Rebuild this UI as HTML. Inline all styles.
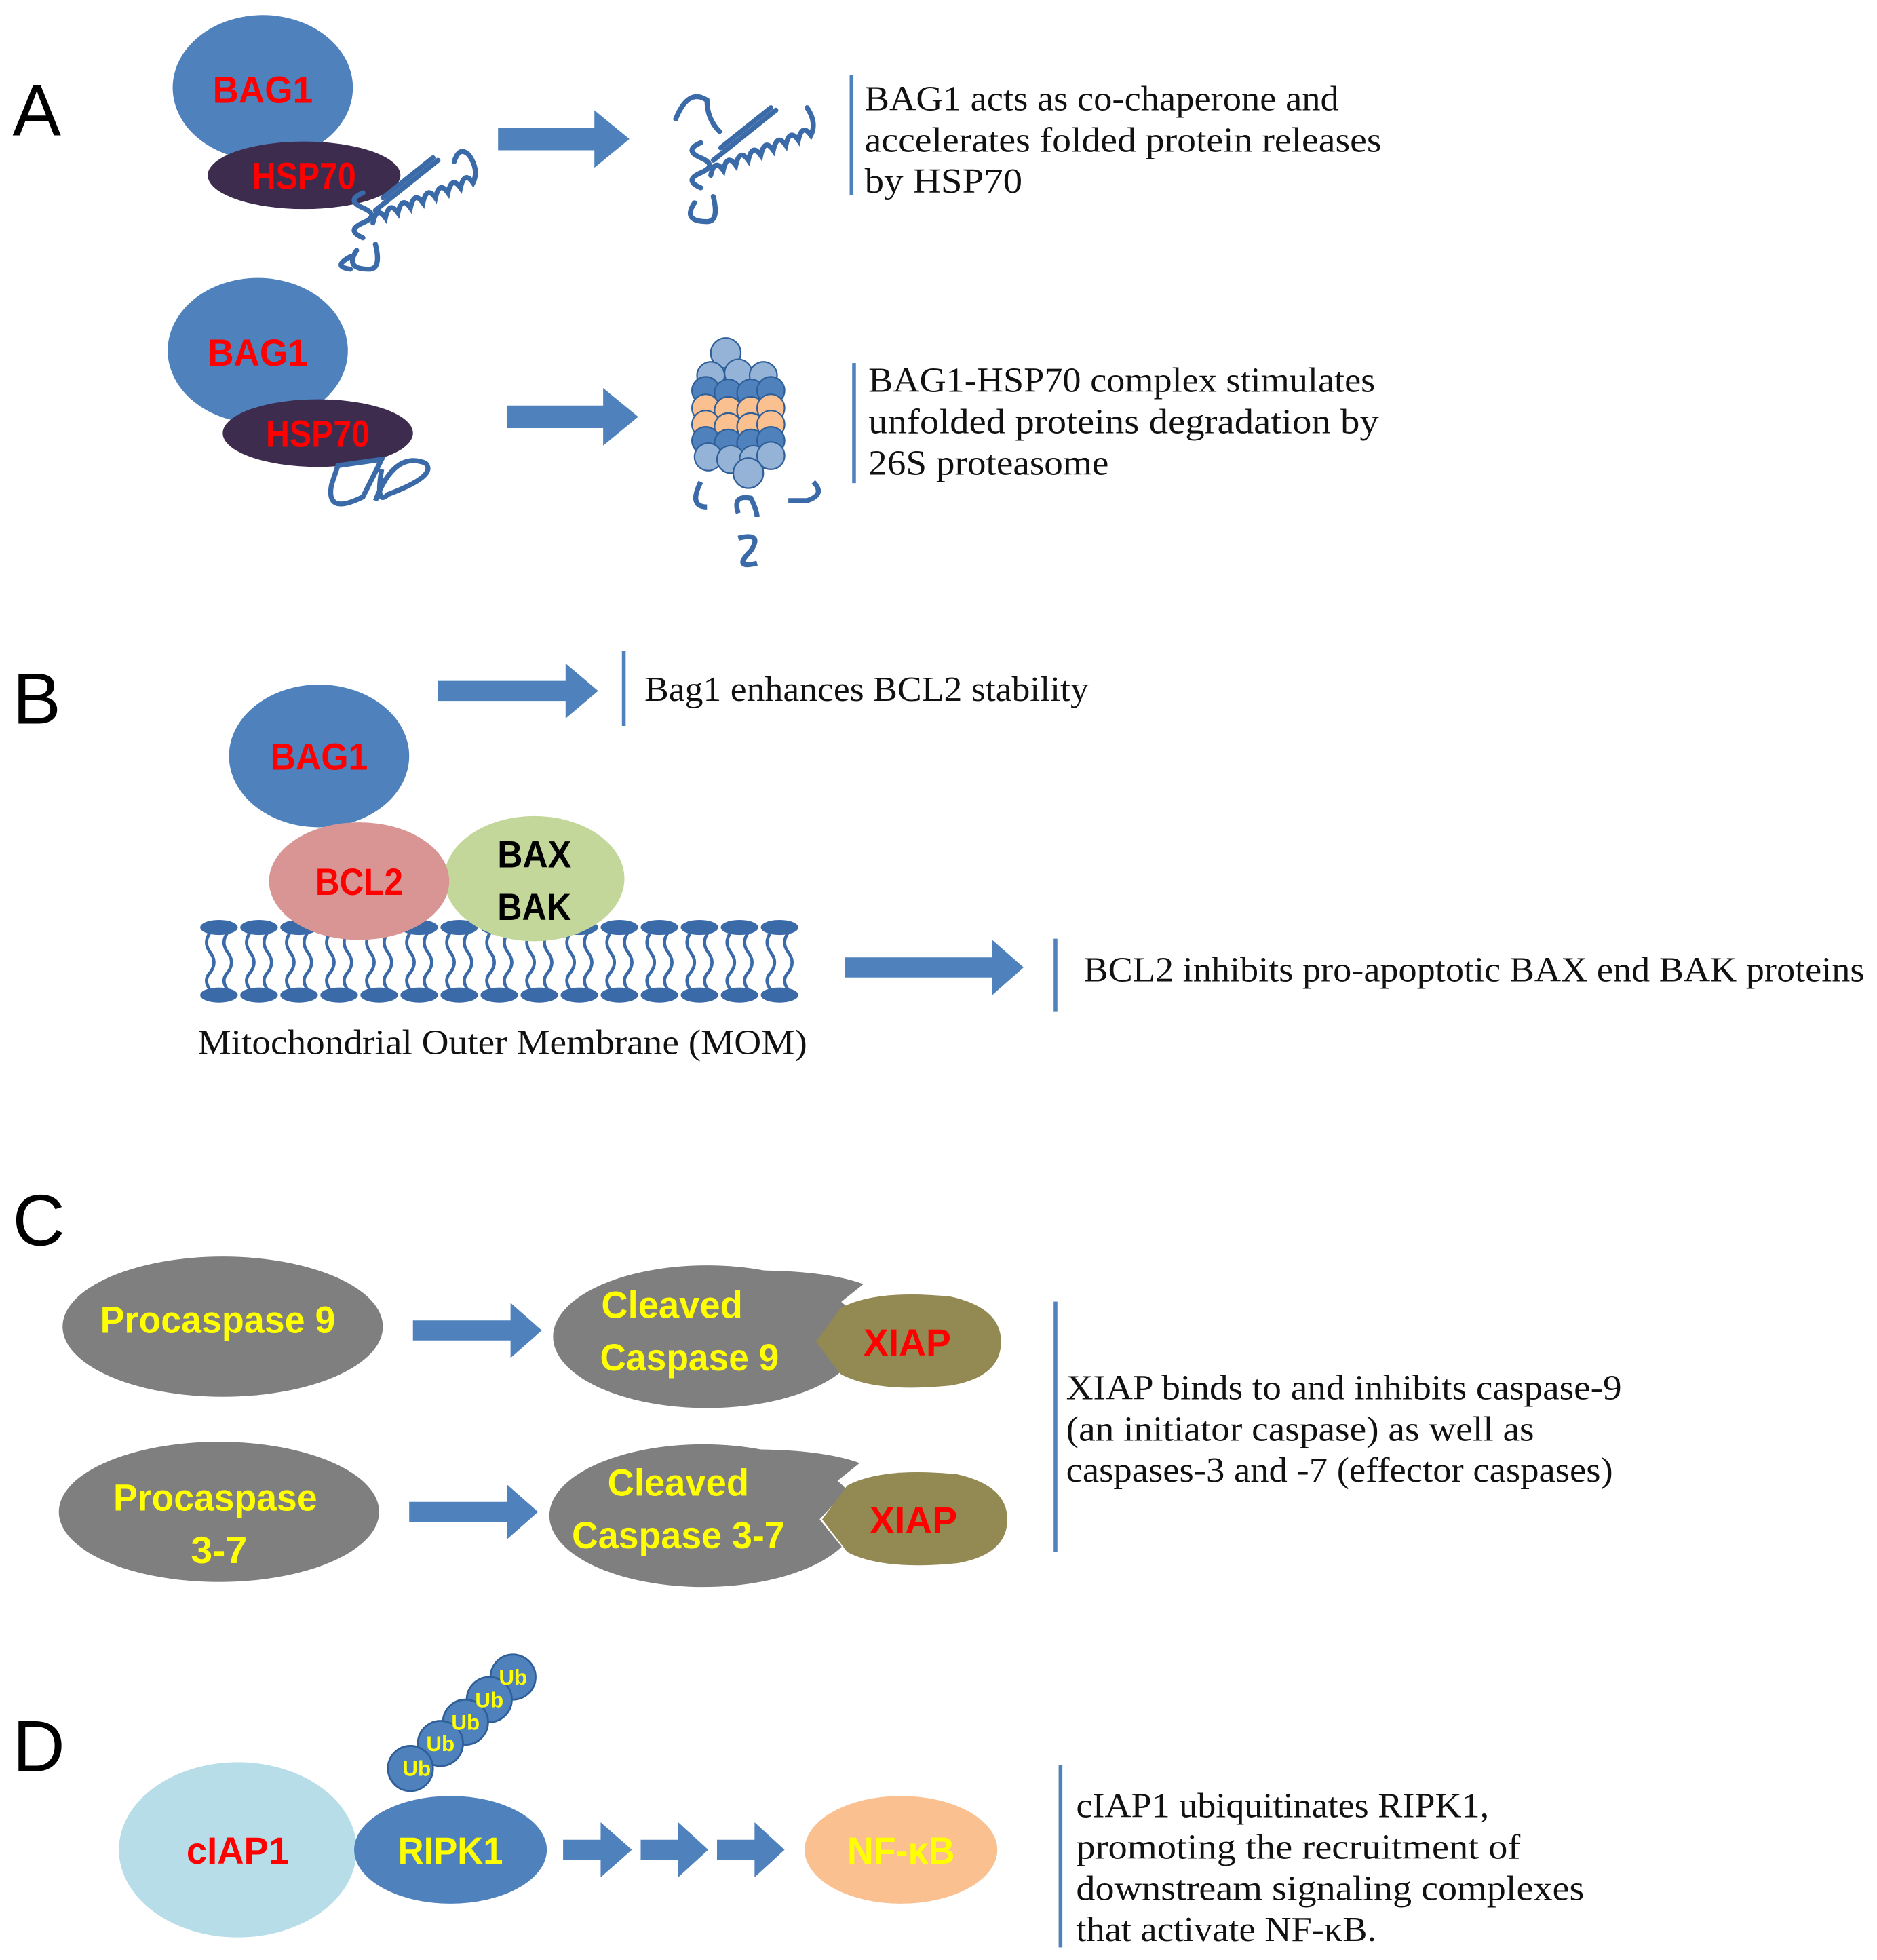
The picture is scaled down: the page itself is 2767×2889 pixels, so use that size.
<!DOCTYPE html><html><head><meta charset="utf-8"><style>html,body{margin:0;padding:0;background:#fff}svg{display:block}
.l{font-family:"Liberation Sans Narrow","Liberation Sans",sans-serif;font-weight:bold;text-anchor:middle}
.t{font-family:"Liberation Serif",serif;font-size:28px;fill:#111}
.big{font-family:"Liberation Sans",sans-serif;font-size:58px;fill:#000}
</style></head><body>
<svg width="2767" height="2889" viewBox="0 0 1500 1566" xmlns="http://www.w3.org/2000/svg">
<defs>
<symbol id="lip" viewBox="0 0 30 66" overflow="visible">
<ellipse cx="15" cy="6" rx="15" ry="6" fill="#3b6aa8"/>
<ellipse cx="15" cy="60" rx="15" ry="6" fill="#3b6aa8"/>
<path d="M8 10 q-6 8 0 16 q6 8 0 16 q-6 6 0 14 M22 10 q-6 8 0 16 q6 8 0 16 q-6 6 0 14" stroke="#3b6aa8" stroke-width="2.5" fill="none"/>
</symbol>
</defs>
<g fill="#4f81bd">
<polygon points="398,102 475,102 475,88 503,111 475,134 475,120 398,120"/>
<polygon points="405,324 482,324 482,310 510,333 482,356 482,342 405,342"/>
<polygon points="350,544 452,544 452,530 478,552 452,574 452,560 350,560"/>
<polygon points="675,765 793,765 793,751 818,773 793,795 793,781 675,781"/>
<polygon points="330,1055 408,1055 408,1041 433,1063 408,1085 408,1071 330,1071"/>
<polygon points="327,1200 405,1200 405,1186 430,1208 405,1230 405,1216 327,1216"/>
<polygon points="450,1470 480,1470 480,1456 505,1478 480,1500 480,1486 450,1486"/>
<polygon points="512,1470 542,1470 542,1456 566,1478 542,1500 542,1486 512,1486"/>
<polygon points="573,1470 603,1470 603,1456 627,1478 603,1500 603,1486 573,1486"/>
</g>
<g fill="#4f81bd">
<rect x="679" y="60" width="3" height="96"/><rect x="681" y="290" width="3" height="96"/>
<rect x="497" y="520" width="3" height="60"/><rect x="842" y="750" width="3" height="58"/>
<rect x="842" y="1040" width="3" height="200"/><rect x="846" y="1410" width="3" height="146"/>
</g>
<text class="big" x="10" y="108">A</text>
<text class="big" x="10" y="578">B</text>
<text class="big" x="10" y="995">C</text>
<text class="big" x="10" y="1415">D</text>
<!-- A row 1 -->
<ellipse cx="210" cy="70" rx="72" ry="58" fill="#4f81bd"/>
<ellipse cx="243" cy="140" rx="77" ry="27" fill="#3d2c4e"/>
<text class="l" x="210" y="82" font-size="30" fill="#ff0000" textLength="80" lengthAdjust="spacingAndGlyphs">BAG1</text>
<text class="l" x="243" y="151" font-size="30" fill="#ff0000" textLength="83" lengthAdjust="spacingAndGlyphs">HSP70</text>
<g stroke="#3b6aa8" stroke-width="4" fill="none" stroke-linecap="round">
<path d="M290 190 q-14 -6 0 -12 q14 -6 0 -12 q-14 -6 0 -12 M298 178 q3 -14 10 -4 q3 -14 10 -4 q3 -14 10 -4 q3 -14 10 -4 q3 -14 10 -4 q3 -14 10 -4 q3 -14 10 -4 q3 -14 10 -4 q5 -10 -3 -22 q-8 -8 -12 5 M300 168 l50 -40 M306 158 l40 -32 M285 200 q-10 15 10 15 q10 0 5 -20 M280 205 q-15 8 0 10"/>
<path d="M560 150 q-14 -6 0 -12 q14 -6 0 -12 q-14 -6 0 -12 M568 140 q3 -14 10 -4 q3 -14 10 -4 q3 -14 10 -4 q3 -14 10 -4 q3 -14 10 -4 q3 -14 10 -4 q3 -14 10 -4 q3 -14 10 -4 q5 -10 -3 -22 M570 128 l50 -40 M576 118 l40 -32 M540 95 q10 -25 25 -15 q0 15 10 25 M555 162 q-10 15 10 15 q10 0 5 -20"/>
</g>
<text class="t" x="691" y="88" textLength="379" lengthAdjust="spacingAndGlyphs">BAG1 acts as co-chaperone and</text>
<text class="t" x="691" y="121" textLength="413" lengthAdjust="spacingAndGlyphs">accelerates folded protein releases</text>
<text class="t" x="691" y="154" textLength="126" lengthAdjust="spacingAndGlyphs">by  HSP70</text>
<!-- A row 2 -->
<ellipse cx="206" cy="280" rx="72" ry="58" fill="#4f81bd"/>
<ellipse cx="254" cy="346" rx="76" ry="27" fill="#3d2c4e"/>
<text class="l" x="206" y="292" font-size="30" fill="#ff0000" textLength="80" lengthAdjust="spacingAndGlyphs">BAG1</text>
<text class="l" x="254" y="357" font-size="30" fill="#ff0000" textLength="83" lengthAdjust="spacingAndGlyphs">HSP70</text>
<path d="M270 372 l35 -5 l-15 30 q-30 15 -25 -10 z M300 400 q15 -40 40 -30 q10 10 -30 25 q-10 10 -5 -20" stroke="#3b6aa8" stroke-width="4" fill="none"/>
<g stroke="#2f5f99" stroke-width="1.2">
<g fill="#95b3d7"><circle cx="580" cy="282" r="12"/><circle cx="568" cy="300" r="11"/><circle cx="590" cy="298" r="11"/><circle cx="610" cy="300" r="11"/></g>
<g fill="#4f81bd"><circle cx="564" cy="312" r="11"/><circle cx="582" cy="314" r="11"/><circle cx="600" cy="314" r="11"/><circle cx="616" cy="312" r="11"/></g>
<g fill="#fac090"><circle cx="564" cy="326" r="11"/><circle cx="582" cy="328" r="11"/><circle cx="600" cy="328" r="11"/><circle cx="616" cy="326" r="11"/>
<circle cx="564" cy="339" r="11"/><circle cx="582" cy="341" r="11"/><circle cx="600" cy="341" r="11"/><circle cx="616" cy="339" r="11"/></g>
<g fill="#4f81bd"><circle cx="564" cy="352" r="11"/><circle cx="582" cy="354" r="11"/><circle cx="600" cy="354" r="11"/><circle cx="616" cy="352" r="11"/></g>
<g fill="#95b3d7"><circle cx="566" cy="365" r="11"/><circle cx="584" cy="367" r="11"/><circle cx="602" cy="367" r="11"/><circle cx="616" cy="364" r="11"/><circle cx="598" cy="378" r="12"/></g>
</g>
<path d="M560 385 q-10 20 5 20 M590 410 q-5 -15 10 -12 q5 10 5 15 M630 400 l15 0 q15 -5 5 -15 M590 430 q20 -5 10 10 q-15 15 5 10" stroke="#3b6aa8" stroke-width="4" fill="none"/>
<text class="t" x="694" y="313" textLength="405" lengthAdjust="spacingAndGlyphs">BAG1-HSP70 complex stimulates</text>
<text class="t" x="694" y="346" textLength="408" lengthAdjust="spacingAndGlyphs">unfolded proteins degradation by</text>
<text class="t" x="694" y="379" textLength="192" lengthAdjust="spacingAndGlyphs">26S proteasome</text>
<!-- B -->
<g>
<use href="#lip" x="160" y="735" width="30" height="66"/><use href="#lip" x="192" y="735" width="30" height="66"/><use href="#lip" x="224" y="735" width="30" height="66"/><use href="#lip" x="256" y="735" width="30" height="66"/><use href="#lip" x="288" y="735" width="30" height="66"/><use href="#lip" x="320" y="735" width="30" height="66"/><use href="#lip" x="352" y="735" width="30" height="66"/><use href="#lip" x="384" y="735" width="30" height="66"/><use href="#lip" x="416" y="735" width="30" height="66"/><use href="#lip" x="448" y="735" width="30" height="66"/><use href="#lip" x="480" y="735" width="30" height="66"/><use href="#lip" x="512" y="735" width="30" height="66"/><use href="#lip" x="544" y="735" width="30" height="66"/><use href="#lip" x="576" y="735" width="30" height="66"/><use href="#lip" x="608" y="735" width="30" height="66"/>
</g>
<ellipse cx="255" cy="604" rx="72" ry="57" fill="#4f81bd"/>
<text class="l" x="255" y="615" font-size="30" fill="#ff0000" textLength="78" lengthAdjust="spacingAndGlyphs">BAG1</text>
<ellipse cx="427" cy="702" rx="72" ry="50" fill="#c4d79b"/>
<ellipse cx="287" cy="704" rx="72" ry="47" fill="#d99594"/>
<text class="l" x="287" y="715" font-size="30" fill="#ff0000" textLength="70" lengthAdjust="spacingAndGlyphs">BCL2</text>
<text class="l" x="427" y="693" font-size="30" fill="#000" textLength="59" lengthAdjust="spacingAndGlyphs">BAX</text>
<text class="l" x="427" y="735" font-size="30" fill="#000" textLength="59" lengthAdjust="spacingAndGlyphs">BAK</text>
<text class="t" x="515" y="560" textLength="355" lengthAdjust="spacingAndGlyphs">Bag1 enhances BCL2 stability</text>
<text class="t" x="866" y="784" textLength="624" lengthAdjust="spacingAndGlyphs">BCL2 inhibits pro-apoptotic BAX end BAK proteins</text>
<text class="t" x="158" y="842" textLength="487" lengthAdjust="spacingAndGlyphs">Mitochondrial Outer Membrane (MOM)</text>
<!-- C -->
<ellipse cx="178" cy="1060" rx="128" ry="56" fill="#7f7f7f"/>
<text class="l" x="174" y="1065" font-size="30" fill="#ffff00" textLength="188" lengthAdjust="spacingAndGlyphs">Procaspase 9</text>
<ellipse cx="565" cy="1068" rx="123" ry="57" fill="#7f7f7f"/>
<path d="M600 1015 Q660 1015 690 1026 L660 1050 Z" fill="#7f7f7f"/>
<polygon points="700,1026 655,1072 700,1122 720,1120 720,1026" fill="#fff"/>
<path d="M672 1045 Q700 1030 760 1036 Q800 1045 800 1072 Q800 1100 760 1107 Q700 1113 672 1098 L652 1072 Z" fill="#938953"/>
<text class="l" x="537" y="1053" font-size="30" fill="#ffff00" textLength="113" lengthAdjust="spacingAndGlyphs">Cleaved</text>
<text class="l" x="551" y="1095" font-size="30" fill="#ffff00" textLength="143" lengthAdjust="spacingAndGlyphs">Caspase 9</text>
<text class="l" x="725" y="1083" font-size="30" fill="#ff0000" textLength="70" lengthAdjust="spacingAndGlyphs">XIAP</text>
<ellipse cx="175" cy="1208" rx="128" ry="56" fill="#7f7f7f"/>
<text class="l" x="172" y="1207" font-size="30" fill="#ffff00" textLength="163" lengthAdjust="spacingAndGlyphs">Procaspase</text>
<text class="l" x="175" y="1249" font-size="30" fill="#ffff00" textLength="45" lengthAdjust="spacingAndGlyphs">3-7</text>
<ellipse cx="562" cy="1211" rx="123" ry="57" fill="#7f7f7f"/>
<path d="M597 1158 Q657 1158 687 1169 L657 1193 Z" fill="#7f7f7f"/>
<polygon points="697,1168 655,1214 697,1266 720,1266 720,1168" fill="#fff"/>
<path d="M677 1187 Q705 1172 765 1178 Q805 1187 805 1214 Q805 1242 765 1249 Q705 1255 677 1240 L657 1214 Z" fill="#938953"/>
<text class="l" x="542" y="1195" font-size="30" fill="#ffff00" textLength="113" lengthAdjust="spacingAndGlyphs">Cleaved</text>
<text class="l" x="542" y="1237" font-size="30" fill="#ffff00" textLength="170" lengthAdjust="spacingAndGlyphs">Caspase 3-7</text>
<text class="l" x="730" y="1225" font-size="30" fill="#ff0000" textLength="70" lengthAdjust="spacingAndGlyphs">XIAP</text>
<text class="t" x="852" y="1118" textLength="444" lengthAdjust="spacingAndGlyphs">XIAP binds to and inhibits caspase-9</text>
<text class="t" x="852" y="1151" textLength="374" lengthAdjust="spacingAndGlyphs">(an initiator caspase) as well as</text>
<text class="t" x="852" y="1184" textLength="437" lengthAdjust="spacingAndGlyphs">caspases-3 and -7 (effector caspases)</text>
<!-- D -->
<g fill="#4f81bd" stroke="#2f5f99" stroke-width="1.5">
<circle cx="410" cy="1340" r="18"/><circle cx="391" cy="1358" r="18"/><circle cx="372" cy="1376" r="18"/><circle cx="352" cy="1393" r="18"/><circle cx="328" cy="1413" r="18"/>
</g>
<g class="l" font-size="17" fill="#ffff00">
<text x="410" y="1346">Ub</text><text x="391" y="1364">Ub</text><text x="372" y="1382">Ub</text><text x="352" y="1399">Ub</text><text x="333" y="1419">Ub</text>
</g>
<ellipse cx="190" cy="1478" rx="95" ry="70" fill="#b7dee8"/>
<text class="l" x="190" y="1489" font-size="30" fill="#ff0000" textLength="82" lengthAdjust="spacingAndGlyphs">cIAP1</text>
<ellipse cx="360" cy="1478" rx="77" ry="43" fill="#4f81bd"/>
<text class="l" x="360" y="1489" font-size="30" fill="#ffff00" textLength="84" lengthAdjust="spacingAndGlyphs">RIPK1</text>
<ellipse cx="720" cy="1478" rx="77" ry="43" fill="#fac090"/>
<text class="l" x="720" y="1489" font-size="30" fill="#ffff00" textLength="86" lengthAdjust="spacingAndGlyphs">NF-κB</text>
<text class="t" x="860" y="1452" textLength="330" lengthAdjust="spacingAndGlyphs">cIAP1 ubiquitinates RIPK1,</text>
<text class="t" x="860" y="1485" textLength="355" lengthAdjust="spacingAndGlyphs">promoting the recruitment of</text>
<text class="t" x="860" y="1518" textLength="406" lengthAdjust="spacingAndGlyphs">downstream signaling complexes</text>
<text class="t" x="860" y="1551" textLength="240" lengthAdjust="spacingAndGlyphs">that activate NF-κB.</text>
</svg>
</body></html>
